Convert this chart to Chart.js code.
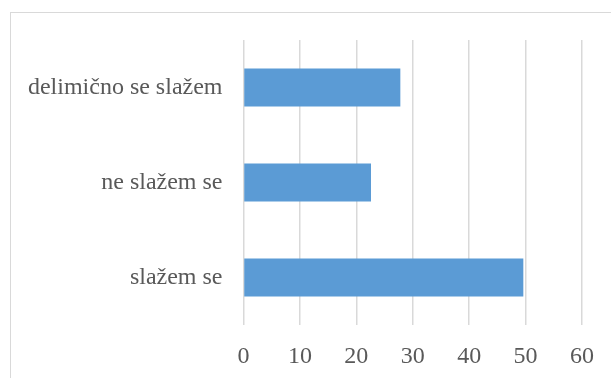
<!DOCTYPE html>
<html>
<head>
<meta charset="utf-8">
<script src="https://cdn.jsdelivr.net/npm/chart.js@4/dist/chart.umd.min.js"></script>
<style>
    body { margin: 0; background: #ffffff; }
    #wrap { position: relative; width: 611px; height: 378px; overflow: hidden; }
    #frame { position: absolute; left: 10px; top: 12px; width: 700px; height: 500px; border: 1.5px solid #d9d9d9; }
    #myChartOdgovori { position: absolute; left: 0; top: 0; }
</style>
</head>
<body>
<div id="wrap">
    <div id="frame"></div>
    <canvas id="myChartOdgovori" width="611" height="378"></canvas>
</div>
<script>
// odgovori, od vrha prema dnu
const kategorije = ['delimično se slažem', 'ne slažem se', 'slažem se'];
const procenti = [27.8, 22.6, 49.6];
const xTicks = [0, 10, 20, 30, 40, 50, 60];

const boja = '#5b9bd5';
const sivaTekst = '#595959';
const sivaMreza = '#d9d9d9';

var myChartOdgovori = setupBarGraph('myChartOdgovori');

function setupBarGraph(ctx) {
    const _ctx = document.getElementById(ctx);
    const config = {
        type: 'bar',
        data: {
            labels: kategorije,
            datasets: [{
                data: procenti,
                backgroundColor: boja,
                borderWidth: 0,
                barPercentage: 0.4,
                categoryPercentage: 1.0
            }]
        },
        options: {
            indexAxis: 'y',
            responsive: false,
            animation: false,
            layout: {
                padding: { left: 0, right: 28, top: 40, bottom: 0 }
            },
            scales: {
                x: {
                    min: xTicks[0],
                    max: xTicks[xTicks.length - 1],
                    afterBuildTicks: function (scale) {
                        scale.ticks = xTicks.map(v => ({ value: v }));
                    },
                    afterFit: function (scale) {
                        scale.height = 53;
                    },
                    grid: {
                        color: sivaMreza,
                        lineWidth: 1.5,
                        drawTicks: false
                    },
                    border: { display: false },
                    ticks: {
                        padding: 17,
                        color: sivaTekst,
                        font: { family: 'Liberation Serif', size: 24 }
                    }
                },
                y: {
                    afterFit: function (scale) {
                        scale.width = 243.5;
                    },
                    grid: { display: false, drawTicks: false },
                    border: { display: false },
                    ticks: {
                        padding: 21,
                        color: sivaTekst,
                        font: { family: 'Liberation Serif', size: 24 }
                    }
                }
            },
            plugins: {
                legend: { display: false },
                tooltip: { enabled: false }
            }
        }
    };
    return new Chart(_ctx, config);
}
</script>
</body>
</html>
